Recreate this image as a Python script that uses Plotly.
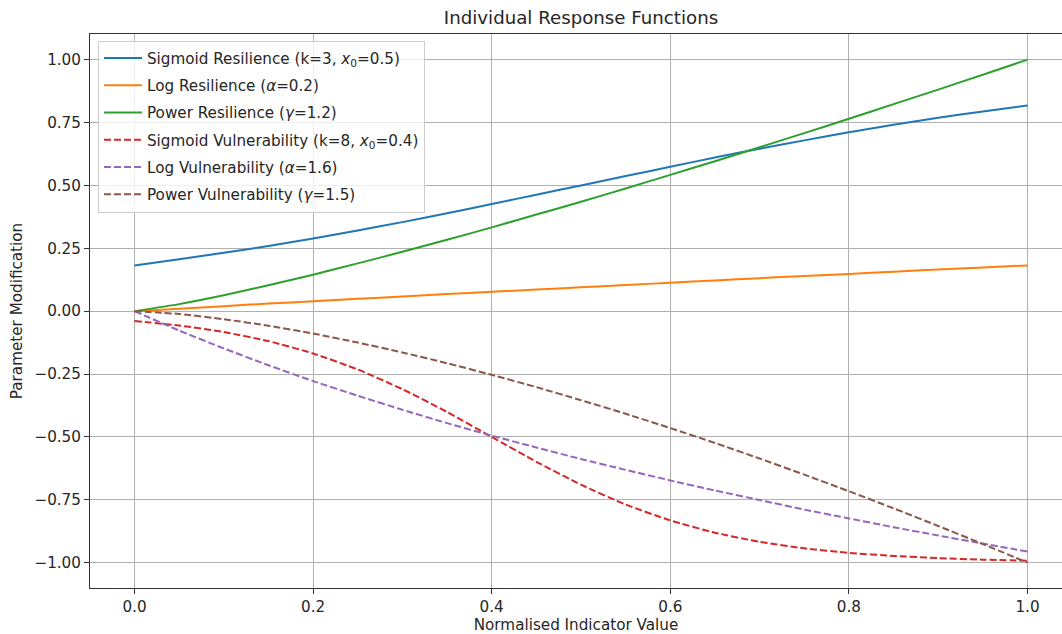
import plotly.graph_objects as go

x_vals = [0.0, 0.05, 0.1, 0.15, 0.2, 0.25, 0.3, 0.35, 0.4, 0.45, 0.5,
          0.55, 0.6, 0.65, 0.7, 0.75, 0.8, 0.85, 0.9, 0.95, 1.0]

sigmoid_resilience = [0.182, 0.206, 0.232, 0.259, 0.289, 0.321, 0.354, 0.389, 0.426, 0.463, 0.500,
                      0.537, 0.574, 0.611, 0.646, 0.679, 0.711, 0.741, 0.769, 0.794, 0.818]
log_resilience = [0.000, 0.010, 0.020, 0.030, 0.039, 0.049, 0.058, 0.068, 0.077, 0.086, 0.095,
                  0.104, 0.113, 0.122, 0.131, 0.140, 0.148, 0.157, 0.166, 0.174, 0.182]
power_resilience = [0.000, 0.028, 0.063, 0.103, 0.145, 0.190, 0.236, 0.284, 0.333, 0.384, 0.435,
                    0.488, 0.542, 0.596, 0.652, 0.708, 0.765, 0.823, 0.881, 0.940, 1.000]
sigmoid_vulnerability = [-0.039, -0.057, -0.083, -0.119, -0.168, -0.232, -0.310, -0.401, -0.500, -0.599, -0.690,
                         -0.769, -0.832, -0.881, -0.917, -0.943, -0.961, -0.973, -0.982, -0.988, -0.992]
log_vulnerability = [0.000, -0.077, -0.148, -0.215, -0.278, -0.336, -0.392, -0.445, -0.495, -0.542, -0.588,
                     -0.631, -0.673, -0.713, -0.751, -0.789, -0.824, -0.859, -0.892, -0.924, -0.956]
power_vulnerability = [0.000, -0.011, -0.032, -0.058, -0.089, -0.125, -0.164, -0.207, -0.253, -0.302, -0.354,
                       -0.408, -0.465, -0.524, -0.586, -0.650, -0.716, -0.784, -0.854, -0.926, -1.000]

series_names = [
    "Sigmoid Resilience (k=3, <i>x</i><sub>0</sub>=0.5)",
    "Log Resilience (<i>α</i>=0.2)",
    "Power Resilience (<i>γ</i>=1.2)",
    "Sigmoid Vulnerability (k=8, <i>x</i><sub>0</sub>=0.4)",
    "Log Vulnerability (<i>α</i>=1.6)",
    "Power Vulnerability (<i>γ</i>=1.5)",
]
series_values = [sigmoid_resilience, log_resilience, power_resilience,
                 sigmoid_vulnerability, log_vulnerability, power_vulnerability]
colors = ["#1f77b4", "#ff7f0e", "#2ca02c", "#d62728", "#9467bd", "#8c564b"]
dashes = ["solid", "solid", "solid", "7px,3px", "7px,3px", "7px,3px"]

x_ticks = [0.0, 0.2, 0.4, 0.6, 0.8, 1.0]
x_ticklabels = ["0.0", "0.2", "0.4", "0.6", "0.8", "1.0"]
y_ticks = [1.0, 0.75, 0.5, 0.25, 0.0, -0.25, -0.5, -0.75, -1.0]
y_ticklabels = ["1.00", "0.75", "0.50", "0.25", "0.00", "\u22120.25", "\u22120.50", "\u22120.75", "\u22121.00"]

fig = go.Figure()
for i, (name, vals) in enumerate(zip(series_names, series_values)):
    fig.add_trace(go.Scatter(
        x=x_vals, y=vals, mode="lines", name=name,
        line=dict(color=colors[i], width=2, dash=dashes[i], shape="spline", smoothing=0.5),
        legendgroup=f"g{i}",
    ))

font_family = "DejaVu Sans"
fs = 15.2
fig.update_layout(
    width=1062, height=634,
    margin=dict(l=90, r=0, t=34, b=46),
    paper_bgcolor="white", plot_bgcolor="white",
    font=dict(family=font_family, size=fs, color="#262626"),
    title=dict(text="Individual Response Functions", x=581 / 1062, xanchor="center",
               y=1 - 18 / 634, yanchor="middle", font=dict(size=18.2, color="#262626")),
    showlegend=True,
    legend=dict(x=0.0082, y=0.988, xanchor="left", yanchor="top",
                bgcolor="rgba(255,255,255,0.8)", bordercolor="#cccccc", borderwidth=1,
                font=dict(size=fs, color="#262626"), traceorder="grouped",
                tracegroupgap=4.5, itemwidth=38),
    xaxis=dict(range=[-0.0498, 1.0386], tickvals=x_ticks, ticktext=x_ticklabels,
               showgrid=True, gridcolor="#b0b0b0", gridwidth=1,
               showline=True, linecolor="#333333", linewidth=1, mirror=True,
               ticks="outside", ticklen=5, tickcolor="#333333", zeroline=False,
               title=dict(text="Normalised Indicator Value", font=dict(size=fs), standoff=5)),
    yaxis=dict(range=[-1.1007, 1.102], tickvals=y_ticks, ticktext=y_ticklabels,
               showgrid=True, gridcolor="#b0b0b0", gridwidth=1,
               showline=True, linecolor="#333333", linewidth=1, mirror=False,
               ticks="outside", ticklen=5, tickcolor="#333333", zeroline=False,
               title=dict(text="Parameter Modification", font=dict(size=fs), standoff=8)),
)

fig.write_html("out.html")
